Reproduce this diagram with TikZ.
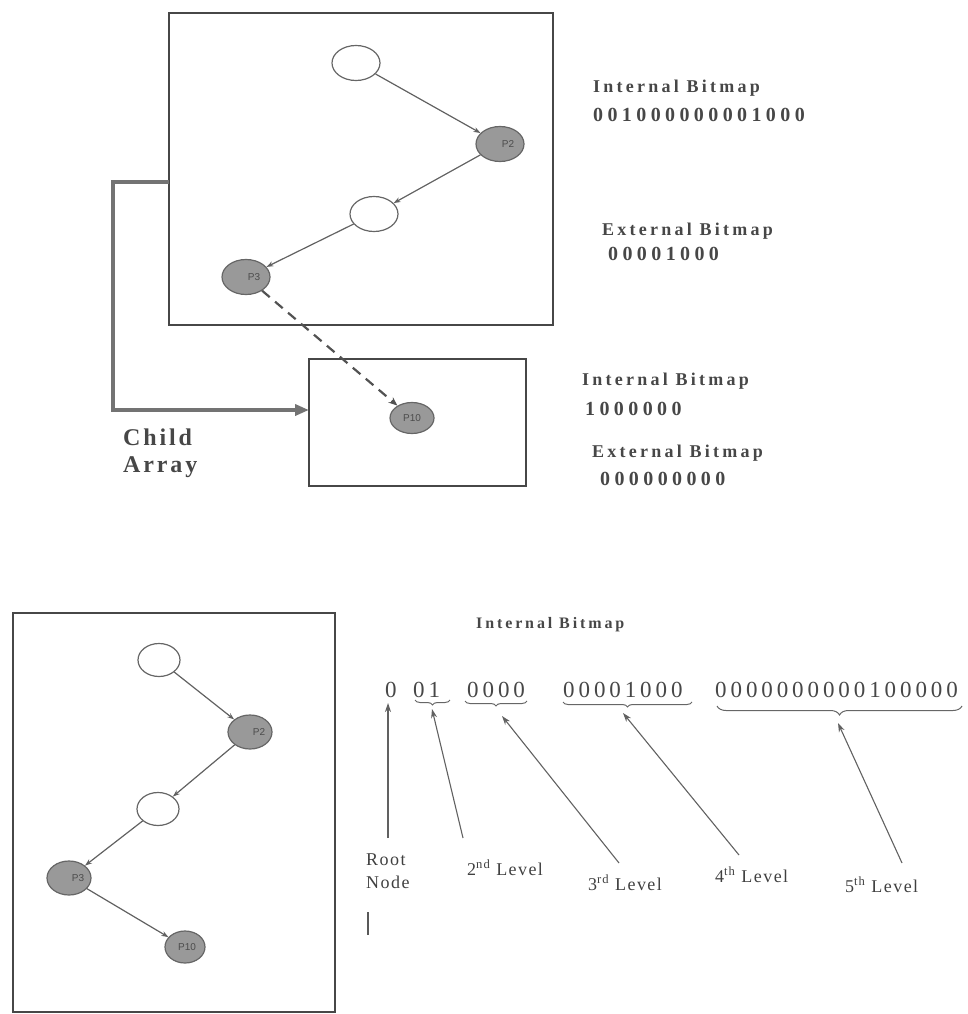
\documentclass[tikz,border=0pt]{standalone}
\usepackage{fontspec}
\setmainfont{Liberation Serif}
\newfontfamily\bmfont[LetterSpace=18]{Liberation Serif}
\newfontfamily\bmdfont[LetterSpace=22]{Liberation Serif}
\newfontfamily\smbmfont[LetterSpace=18]{Liberation Serif}
\newfontfamily\rowfont[LetterSpace=17]{Liberation Serif}
\newfontfamily\lvlfont[LetterSpace=8]{Liberation Serif}
\newfontfamily\childfont[LetterSpace=12]{Liberation Serif}
\newfontfamily\pfont{Liberation Sans}
\usetikzlibrary{shapes.geometric,arrows.meta,decorations.pathreplacing}
\begin{document}
\begin{tikzpicture}[x=1pt,y=-1pt,
  frame/.style={draw=black!72,line width=1.8pt,inner sep=0pt,outer sep=0pt},
  wnode/.style={ellipse,draw=black!60,line width=1.2pt,fill=white,minimum width=48pt,minimum height=35pt,inner sep=0pt},
  gnode/.style={wnode,fill=black!40},
  plab/.style={font=\pfont\fontsize{10}{10}\selectfont,text=black!70,inner sep=0pt},
  tedge/.style={draw=black!62,line width=1.2pt,-{Stealth[length=7pt,width=5pt]}},
  bmtext/.style={anchor=base west,inner sep=0pt,text=black!72,font=\bmfont\bfseries\fontsize{18}{18}\selectfont},
  bmdig/.style={anchor=base west,inner sep=0pt,text=black!72,font=\bmdfont\bfseries\fontsize{20}{20}\selectfont},
  rowtext/.style={anchor=base west,inner sep=0pt,text=black!72,font=\rowfont\fontsize{23}{23}\selectfont},
  lvltext/.style={anchor=base west,inner sep=0pt,text=black!75,font=\lvlfont\fontsize{18}{18}\selectfont},
  brc/.style={draw=black!60,line width=1pt,decorate,decoration={brace,mirror,amplitude=5pt}},
  lvlarr/.style={draw=black!62,line width=1.1pt,-{Stealth[length=9pt,width=6pt]}},
  childarr/.style={draw=black!55,line width=4pt,-{Triangle[length=14pt,width=11pt]}}
]
\useasboundingbox (0,0) rectangle (968,1014);

% ---------- top tree ----------
\node[frame,minimum width=384pt,minimum height=312pt] (topbox) at (361,169) {};
\node[wnode] (t1) at (356,63) {};
\node[gnode,label={[plab,xshift=8pt]center:P2}] (t2) at (500,144) {};
\node[wnode] (t3) at (374,214) {};
\node[gnode,label={[plab,xshift=8pt]center:P3}] (t4) at (246,277) {};
\draw[tedge] (t1) -- (t2);
\draw[tedge] (t2) -- (t3);
\draw[tedge] (t3) -- (t4);

\node[frame,minimum width=217pt,minimum height=127pt] (box2) at (417.5,422.5) {};
\node[gnode,minimum width=44pt,minimum height=31pt,label={[plab]center:P10}] (t5) at (412,418) {};
\draw[draw=black!68,line width=2.2pt,dash pattern=on 10pt off 7pt,-{Stealth[length=9pt,width=7pt]}] (t4) -- (t5);

% child array connector
\coordinate (ca1) at (169,182);
\coordinate (ca2) at (113,182);
\coordinate (ca3) at (0,410);
\draw[childarr] (ca1) -- (ca2) |- (box2.west |- ca3);
\node[anchor=base west,inner sep=0pt,text=black!72,font=\childfont\bfseries\fontsize{24}{24}\selectfont] (child1) at (123,445) {Child};
\node[anchor=base west,inner sep=0pt,text=black!72,font=\childfont\bfseries\fontsize{24}{24}\selectfont] (child2) at (123,472) {Array};

% top right texts
\node[bmtext] (ib1) at (593,93) {Internal Bitmap};
\node[bmdig] (ib1v) at (593,122) {001000000001000};
\node[bmtext] (eb1) at (602,235) {External Bitmap};
\node[bmdig] (eb1v) at (608,260) {00001000};
\node[bmtext] (ib2) at (582,385) {Internal Bitmap};
\node[bmdig] (ib2v) at (585,415) {1000000};
\node[bmtext] (eb2) at (592,457) {External Bitmap};
\node[bmdig] (eb2v) at (600,485) {000000000};

% ---------- bottom tree ----------
\node[frame,minimum width=322pt,minimum height=399pt] (botbox) at (174,812.5) {};
\node[wnode,minimum width=42pt,minimum height=33pt] (b1) at (159,660) {};
\node[gnode,minimum width=44pt,minimum height=34pt,label={[plab,xshift=9pt]center:P2}] (b2) at (250,732) {};
\node[wnode,minimum width=42pt,minimum height=33pt] (b3) at (158,809) {};
\node[gnode,minimum width=44pt,minimum height=34pt,label={[plab,xshift=9pt]center:P3}] (b4) at (69,878) {};
\node[gnode,minimum width=40pt,minimum height=32pt,label={[plab,xshift=2pt]center:P10}] (b5) at (185,947) {};
\draw[tedge] (b1) -- (b2);
\draw[tedge] (b2) -- (b3);
\draw[tedge] (b3) -- (b4);
\draw[tedge] (b4) -- (b5);

% ---------- bitmap breakdown ----------
\node[anchor=base west,inner sep=0pt,text=black!72,font=\smbmfont\bfseries\fontsize{16}{16}\selectfont] (ib3) at (476,628) {Internal Bitmap};

\node[rowtext] (r0) at (385,697) {0};
\node[rowtext] (r1) at (413,697) {01};
\node[rowtext] (r2) at (467,697) {0000};
\node[rowtext] (r3) at (563,697) {00001000};
\node[rowtext] (r4) at (715,697) {0000000000100000};

\draw[brc] (415,700) -- (450,700);
\draw[brc] (465,701) -- (527,701);
\draw[brc] (563,702) -- (692,702);
\draw[brc,decoration={brace,mirror,amplitude=9pt}] (717,706) -- (962,706);

\coordinate (k0) at (388,703);
\coordinate (k1) at (432,709);
\coordinate (k2) at (502,716);
\coordinate (k3) at (623,713);
\coordinate (k4) at (838,723);
\coordinate (s0) at (388,838);
\coordinate (s1) at (463,838);
\coordinate (s2) at (619,863);
\coordinate (s3) at (739,855);
\coordinate (s4) at (902,863);
\draw[lvlarr] (s0) -- (k0);
\draw[lvlarr] (s1) -- (k1);
\draw[lvlarr] (s2) -- (k2);
\draw[lvlarr] (s3) -- (k3);
\draw[lvlarr] (s4) -- (k4);

\node[lvltext] (l0a) at (366,865) {Root};
\node[lvltext] (l0b) at (366,888) {Node};
\node[lvltext] (l1) at (467,875) {2\textsuperscript{nd} Level};
\node[lvltext] (l2) at (588,890) {3\textsuperscript{rd} Level};
\node[lvltext] (l3) at (715,882) {4\textsuperscript{th} Level};
\node[lvltext] (l4) at (845,892) {5\textsuperscript{th} Level};

% stray bar
\coordinate (bar1) at (368,912);
\coordinate (bar2) at (368,935);
\draw[draw=black!65,line width=2pt] (bar1) -- (bar2);
\end{tikzpicture}
\end{document}
